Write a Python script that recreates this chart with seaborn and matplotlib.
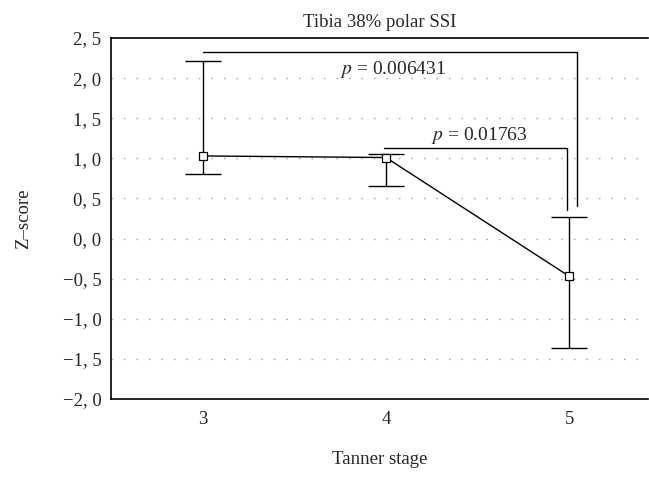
import numpy as np
import pandas as pd
import seaborn as sns
import matplotlib.pyplot as plt

# values
stages = [3, 4, 5]
zscore = [1.03, 1.01, -0.47]
err_hi = [2.21, 1.05, 0.27]
err_lo = [0.80, 0.66, -1.37]

# significance brackets: (x_start, x_end, y_top, y_drop, label, label_x, label_y)
brackets = [(3.0, 5.04, 2.32, 0.40, '0.006431', 4.04, 2.11),
            (3.99, 4.99, 1.13, 0.36, '0.01763', 4.51, 1.29)]

yticks = np.arange(-2.0, 2.51, 0.5)

sns.set_style('white')
plt.rcParams['font.family'] = ['Liberation Serif', 'DejaVu Serif']
plt.rcParams['mathtext.fontset'] = 'stix'

df = pd.DataFrame({'stage': stages, 'z': zscore})

fig = plt.figure(figsize=(6.49, 4.79), dpi=100)
ax = fig.add_axes([111/649, 1 - 399/479, 537/649, (399 - 38)/479])

yerr = [np.array(zscore) - np.array(err_lo), np.array(err_hi) - np.array(zscore)]
ax.errorbar(stages, zscore, yerr=yerr, fmt='none', ecolor='black',
            elinewidth=1.0, capsize=13, capthick=1.0, zorder=2)
sns.lineplot(data=df, x='stage', y='z', color='black', linewidth=1.0,
             marker='s', markersize=5.5, markerfacecolor='white',
             markeredgecolor='black', markeredgewidth=0.9, ax=ax, zorder=3)

for x0, x1, ytop, ydrop, lab, lx, ly in brackets:
    ax.plot([x0, x1, x1], [ytop, ytop, ydrop], color='black', linewidth=1.0)
    ax.text(lx, ly, r'$p$ = ' + lab, ha='center', va='center', fontsize=14)

for y in yticks[1:-1]:
    ax.axhline(y, color='#999999', linestyle=(0, (1, 8)), linewidth=1.0, zorder=0)

ax.set_xlim(2.5, 5.43)
ax.set_ylim(-2.0, 2.5)
ax.set_xticks(stages)
ax.set_yticks(yticks)
ax.set_yticklabels([f'{v:.1f}'.replace('.', ', ').replace('-', '\u2212') for v in yticks])
ax.tick_params(axis='both', labelsize=13.5, length=3, width=1, color='black', direction='out')
ax.tick_params(axis='y', pad=4)
ax.tick_params(axis='x', pad=6)

for s in ax.spines.values():
    s.set_color('black')
    s.set_linewidth(1.2)
ax.spines['right'].set_visible(False)

ax.set_xlabel('Tanner stage', fontsize=13.5, labelpad=16)
ax.set_ylabel('Z\u2013score', fontsize=13.5, labelpad=22)
ax.set_title('Tibia 38% polar SSI', fontsize=13.5, pad=8)

fig.savefig('out.png', dpi=100)
